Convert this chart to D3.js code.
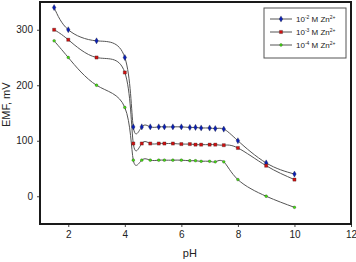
<!DOCTYPE html>
<html>
<head>
<meta charset="utf-8">
<script src="https://cdn.jsdelivr.net/npm/d3@7"></script>
<style>
  body { margin: 0; background: #fff; }
  text { font-family: "Liberation Sans", Arial, sans-serif; fill: #222; }
</style>
</head>
<body>
<div id="chart"></div>
<script>
// pH values (same for every series)
var phLow = [1.5, 2, 3, 4];
var phHigh = [4.3, 4.6, 4.9, 5.2, 5.4, 5.7, 6.0, 6.3, 6.5, 6.7, 7.0, 7.2, 7.5, 8, 9, 10];
var ph = phLow.concat(phHigh);

var emf2 = [340, 300, 280, 250, 125, 125, 125, 125, 125, 125, 125, 124, 124, 123, 123, 122, 121, 100, 60, 40];
var emf3 = [300, 282, 250, 223, 95, 95, 95, 95, 95, 95, 94, 94, 93, 93, 93, 93, 92, 87, 55, 30];
var emf4 = [280, 250, 200, 160, 65, 65, 65, 65, 65, 65, 65, 64, 64, 63, 63, 62, 62, 30, 0, -20];

var xTicks = [2, 4, 6, 8, 10, 12];
var yTicks = [0, 100, 200, 300];

var series = [
  { name: ['10', '-2', ' M Zn', '2+'], values: emf2, color: '#0a1fb4', shape: d3.symbolDiamond, size: 11 },
  { name: ['10', '-3', ' M Zn', '2+'], values: emf3, color: '#d01010', shape: d3.symbolSquare, size: 10 },
  { name: ['10', '-4', ' M Zn', '2+'], values: emf4, color: '#44dd11', shape: d3.symbolCircle, size: 6 }
];

var width = 356, height = 262;
var margin = { top: 2, right: 5, bottom: 38, left: 40 };

var svg = d3.select('#chart').append('svg')
  .attr('width', width)
  .attr('height', height);

var x = d3.scaleLinear().domain([1, 12]).range([margin.left, width - margin.right]);
var y = d3.scaleLinear().domain([-50, 350]).range([height - margin.bottom, margin.top]);

// axes
svg.append('g')
  .attr('transform', 'translate(0,' + (height - margin.bottom) + ')')
  .call(d3.axisBottom(x).tickValues(xTicks).tickSize(3).tickPadding(4))
  .call(function(g) {
    g.select('.domain').remove();
    g.selectAll('line').attr('stroke', '#444');
    g.selectAll('text').attr('font-size', 10).style('fill', '#222');
  });

svg.append('g')
  .attr('transform', 'translate(' + margin.left + ',0)')
  .call(d3.axisLeft(y).tickValues(yTicks).tickSize(3).tickPadding(4))
  .call(function(g) {
    g.select('.domain').remove();
    g.selectAll('line').attr('stroke', '#444');
    g.selectAll('text').attr('font-size', 10).style('fill', '#222');
  });

// frame
svg.append('rect')
  .attr('x', margin.left)
  .attr('y', margin.top)
  .attr('width', width - margin.left - margin.right)
  .attr('height', height - margin.top - margin.bottom)
  .attr('fill', 'none')
  .attr('stroke', '#1a1a1a')
  .attr('stroke-width', 2);

// lines (smooth spline, as the original plot)
var line = d3.line()
  .x(function(d, i) { return x(ph[i]); })
  .y(function(d) { return y(d); })
  .curve(d3.curveNatural);

series.forEach(function(s) {
  svg.append('path')
    .datum(s.values)
    .attr('d', line)
    .attr('fill', 'none')
    .attr('stroke', '#555')
    .attr('stroke-width', 1);
});

series.forEach(function(s) {
  svg.selectAll(null)
    .data(s.values)
    .enter()
    .append('path')
    .attr('d', d3.symbol().type(s.shape).size(s.size))
    .attr('transform', function(d, i) { return 'translate(' + x(ph[i]) + ',' + y(d) + ')'; })
    .attr('fill', s.color)
    .attr('stroke', '#222')
    .attr('stroke-width', 0.3);
});

// axis titles
svg.append('text')
  .attr('x', x(6.3))
  .attr('y', 257)
  .attr('text-anchor', 'middle')
  .attr('font-size', 11)
  .text('pH');

svg.append('text')
  .attr('transform', 'translate(10,' + y(165) + ') rotate(-90)')
  .attr('text-anchor', 'middle')
  .attr('font-size', 11)
  .text('EMF, mV');

// legend
var legend = svg.append('g').attr('transform', 'translate(264,8)');
legend.append('rect')
  .attr('width', 82)
  .attr('height', 50)
  .attr('fill', '#fff')
  .attr('stroke', '#555')
  .attr('stroke-width', 1);

var row = legend.selectAll('.legend')
  .data(series)
  .enter()
  .append('g')
  .attr('class', 'legend')
  .attr('transform', function(d, i) { return 'translate(0,' + (11 + i * 13) + ')'; });

row.append('line')
  .attr('x1', 6).attr('x2', 28)
  .attr('stroke', '#555');

row.append('path')
  .attr('d', function(d) { return d3.symbol().type(d.shape).size(d.size)(); })
  .attr('transform', 'translate(17,0)')
  .attr('fill', function(d) { return d.color; })
  .attr('stroke', '#222')
  .attr('stroke-width', 0.3);

var label = row.append('text')
  .attr('x', 32)
  .attr('y', 3)
  .attr('font-size', 8);

label.each(function(d) {
  var t = d3.select(this);
  t.append('tspan').text(d.name[0]);
  t.append('tspan').attr('font-size', 5).attr('dy', -3).text(d.name[1]);
  t.append('tspan').attr('dy', 3).text(d.name[2]);
  t.append('tspan').attr('font-size', 5).attr('dy', -3).text(d.name[3]);
});
</script>
</body>
</html>
